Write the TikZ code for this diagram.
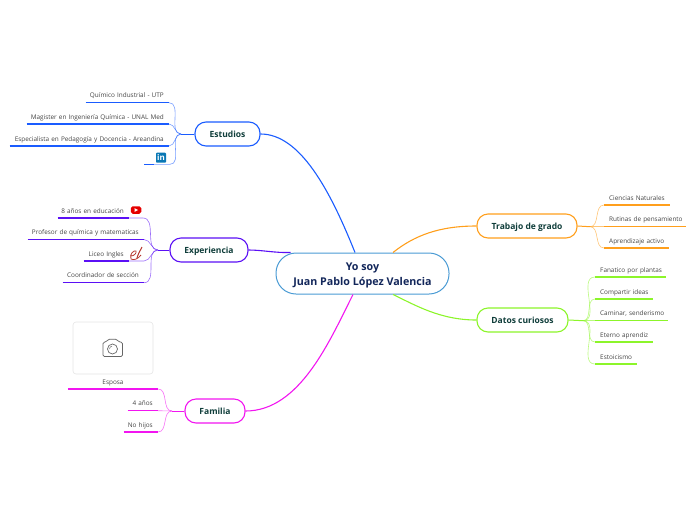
\documentclass[tikz,border=0pt]{standalone}
\usepackage{fontspec}
\setmainfont{Open Sans}
\definecolor{estudioscol}{HTML}{1A5CFF}
\definecolor{expercol}{HTML}{5B10F5}
\definecolor{familiacol}{HTML}{F215F0}
\definecolor{trabajocol}{HTML}{FF9F1C}
\definecolor{datoscol}{HTML}{8CF52A}
\definecolor{rootcol}{HTML}{4A9BD4}
\definecolor{titlecol}{HTML}{12265A}
\definecolor{topiccol}{HTML}{0F3D3A}
\definecolor{leafcol}{HTML}{444444}
\definecolor{linkedincol}{HTML}{0A78B5}
\definecolor{liceocol}{HTML}{B5352C}
\newcommand{\ltxt}[1]{\hbox to\linewidth{\hss #1}}
\newcommand{\rtxt}[1]{\hbox to\linewidth{#1\hss}}
\tikzset{
  rootnode/.style={draw=rootcol,line width=1pt,fill=white,rounded corners=20pt,minimum width=173pt,minimum height=41pt,
    inner sep=0pt,align=center,text=titlecol,font=\fontsize{10.7}{15}\selectfont\bfseries},
  topic/.style={line width=1.1pt,fill=white,rounded corners=11pt,minimum height=24pt,inner sep=0pt,text height=7pt,text depth=0.5pt,
    text=topiccol,font=\fontsize{8.5}{9}\selectfont\bfseries},
  leaf/.style={inner xsep=5pt,inner ysep=0pt,text height=5pt,text depth=4.7pt,text=leafcol,font=\fontsize{6.4}{7}\selectfont},
  leafl/.style={leaf,anchor=south east},
  leafr/.style={leaf,anchor=south west},
  under/.style={line width=1.3pt},
  stem/.style={line width=1pt},
  branch/.style={line width=0.6pt,opacity=0.6},
  mainline/.style={line width=1.1pt},
  photobox/.style={draw=black!10,line width=0.6pt,fill=white,rounded corners=3pt,minimum width=80pt,minimum height=52pt,inner sep=0pt}
}
\begin{document}
\begin{tikzpicture}[x=1pt,y=-1pt]
\useasboundingbox (0,0) rectangle (696,520);

\node[rootnode] (root) at (362.5,273.5) {\rule{0pt}{11pt}Yo soy\\Juan Pablo López Valencia};

\node[topic,draw=estudioscol,minimum width=65pt] (estudios) at (227.5,134) {Estudios};
\node[topic,draw=expercol,minimum width=78pt] (exper) at (209,250) {Experiencia};
\node[topic,draw=familiacol,minimum width=60pt] (familia) at (215,411) {Familia};
\node[topic,draw=trabajocol,minimum width=100pt] (trabajo) at (527,226) {Trabajo de grado};
\node[topic,draw=datoscol,minimum width=91pt] (datos) at (522.5,320) {Datos curiosos};

\draw[mainline,estudioscol] (estudios.east) .. controls (300,134) and (330,190) .. ([xshift=-7.5pt]root.north);
\draw[mainline,expercol] (exper.east) .. controls (262,250) and (275,253) .. ([xshift=-72pt]root.north);
\draw[mainline,familiacol] (familia.east) .. controls (300,411) and (330,340) .. ([xshift=-9.5pt]root.south);
\draw[mainline,trabajocol] (trabajo.west) .. controls (440,226) and (415,235) .. ([xshift=30.5pt]root.north);
\draw[mainline,datoscol] (datos.west) .. controls (440,320) and (415,305) .. ([xshift=30.5pt]root.south);

\coordinate (jestudios) at (181,134);
\node[leafl,text width=73pt] (quimico) at (169,102.7) {\ltxt{Químico Industrial - UTP}};
\node[leafl,text width=132pt] (magister) at (169,124) {\ltxt{Magister en Ingeniería Química - UNAL Med}};
\node[leafl,text width=149pt] (pedagogia) at (169,146) {\ltxt{Especialista en Pedagogía y Docencia - Areandina}};
\coordinate (linkedinl) at (144,164.3);
\coordinate (linkedinm) at (154,164.3);
\coordinate (linkedinr) at (170,164.3);
\node[fill=linkedincol,rounded corners=0.8pt,minimum size=10pt,inner sep=0pt,text=white,font=\fontsize{8}{8}\selectfont\bfseries] (linkedin) at (161,157.7) {in};
\draw[stem,estudioscol] (estudios.west) -- (jestudios);
\draw[under,estudioscol] (quimico.south west) -- (quimico.south east);
\draw[under,estudioscol] (magister.south west) -- (magister.south east);
\draw[under,estudioscol] (pedagogia.south west) -- (pedagogia.south east);
\draw[under,estudioscol] (linkedinl) -- (linkedinm);
\draw[branch,estudioscol] (jestudios) to[out=180,in=0] (quimico.south east);
\draw[branch,estudioscol] (jestudios) to[out=180,in=0] (magister.south east);
\draw[branch,estudioscol] (jestudios) to[out=180,in=0] (pedagogia.south east);
\draw[branch,estudioscol] (jestudios) to[out=180,in=0] (linkedinr) -- (linkedinm);

\coordinate (jexper) at (158,250);
\node[leafl,text width=61pt] (educacion) at (129,218) {\ltxt{8 años en educación}};
\node[leafl,text width=106pt] (profesor) at (144,239.5) {\ltxt{Profesor de química y matematicas}};
\node[leafl,text width=35pt] (liceo) at (129,261) {\ltxt{Liceo Ingles}};
\node[leafl,text width=71pt] (coordinador) at (144,282.7) {\ltxt{Coordinador de sección}};
\coordinate (educacionr) at (143,218);
\coordinate (liceor) at (144,261);
\node[fill=red!90!black,rounded corners=1.8pt,minimum width=10.5pt,minimum height=7.5pt,inner sep=0pt] (youtube) at (136,210) {};
\fill[white] (134.7,208.2) -- (138,210) -- (134.7,211.8) -- cycle;
\draw[line width=0.8pt,liceocol] (131,259) .. controls (129,254) and (134,250) .. (136,251) .. controls (137,253) and (134,256) .. (131,256);
\draw[line width=1pt,liceocol] (137,258) .. controls (138,254) and (140,251) .. (142,247);
\draw[line width=0.8pt,liceocol] (131,259) .. controls (134,260.5) and (138,259) .. (141,255);
\draw[stem,expercol] (exper.west) -- (jexper);
\draw[under,expercol] (educacion.south west) -- (educacion.south east);
\draw[under,expercol] (profesor.south west) -- (profesor.south east);
\draw[under,expercol] (liceo.south west) -- (liceo.south east);
\draw[under,expercol] (coordinador.south west) -- (coordinador.south east);
\draw[branch,expercol] (jexper) to[out=180,in=0] (educacionr) -- (educacion.south east);
\draw[branch,expercol] (jexper) to[out=180,in=0] (profesor.south east);
\draw[branch,expercol] (jexper) to[out=180,in=0] (liceor) -- (liceo.south east);
\draw[branch,expercol] (jexper) to[out=180,in=0] (coordinador.south east);

\coordinate (jfamilia) at (172,411);
\node[photobox] (photo) at (113,348) {};
\draw[line width=0.7pt,black!60,rounded corners=1.5pt] (103,342) -- (106.5,342) -- (108,339.2) -- (117,339.2) -- (118.5,342) -- (122.5,342) -- (122.5,356.5) -- (103,356.5) -- cycle;
\draw[line width=0.7pt,black!60] (112.5,349) circle[radius=5];
\draw[line width=0.5pt,black!60] (109.5,349) .. controls (109.5,347.5) and (110.5,346.5) .. (112,346);
\node[leaf,anchor=south,minimum width=90pt,align=center] (esposa) at (113,389) {Esposa};
\node[leafl,text width=20pt] (anos) at (158,410.7) {\ltxt{4 años}};
\node[leafl,text width=24pt] (hijos) at (158,432) {\ltxt{No hijos}};
\draw[stem,familiacol] (familia.west) -- (jfamilia);
\draw[under,familiacol] (esposa.south west) -- (esposa.south east);
\draw[under,familiacol] (anos.south west) -- (anos.south east);
\draw[under,familiacol] (hijos.south west) -- (hijos.south east);
\draw[branch,familiacol] (jfamilia) to[out=180,in=0] (esposa.south east);
\draw[branch,familiacol] (jfamilia) -- (anos.south east);
\draw[branch,familiacol] (jfamilia) to[out=180,in=0] (hijos.south east);

\coordinate (jtrabajo) at (590,226.7);
\node[leafr,text width=56pt] (ciencias) at (604,205) {\rtxt{Ciencias Naturales}};
\node[leafr,text width=72pt] (rutinas) at (604,226.7) {\rtxt{Rutinas de pensamiento}};
\node[leafr,text width=55pt] (aprendizaje) at (604,248) {\rtxt{Aprendizaje activo}};
\draw[stem,trabajocol] (trabajo.east) -- (jtrabajo);
\draw[under,trabajocol] (ciencias.south west) -- (ciencias.south east);
\draw[under,trabajocol] (rutinas.south west) -- (rutinas.south east);
\draw[under,trabajocol] (aprendizaje.south west) -- (aprendizaje.south east);
\draw[branch,trabajocol] (jtrabajo) to[out=0,in=180] (ciencias.south west);
\draw[branch,trabajocol] (jtrabajo) -- (rutinas.south west);
\draw[branch,trabajocol] (jtrabajo) to[out=0,in=180] (aprendizaje.south west);

\coordinate (jdatos) at (583,320.7);
\node[leafr,text width=61pt] (fanatico) at (595,277) {\rtxt{Fanatico por plantas}};
\node[leafr,text width=48pt] (compartir) at (595,299) {\rtxt{Compartir ideas}};
\node[leafr,text width=63pt] (caminar) at (595,320.7) {\rtxt{Caminar, senderismo}};
\node[leafr,text width=48pt] (eterno) at (595,342) {\rtxt{Eterno aprendiz}};
\node[leafr,text width=32pt] (estoicismo) at (595,364) {\rtxt{Estoicismo}};
\draw[stem,datoscol] (datos.east) -- (jdatos);
\draw[under,datoscol] (fanatico.south west) -- (fanatico.south east);
\draw[under,datoscol] (compartir.south west) -- (compartir.south east);
\draw[under,datoscol] (caminar.south west) -- (caminar.south east);
\draw[under,datoscol] (eterno.south west) -- (eterno.south east);
\draw[under,datoscol] (estoicismo.south west) -- (estoicismo.south east);
\draw[branch,datoscol] (jdatos) to[out=0,in=180] (fanatico.south west);
\draw[branch,datoscol] (jdatos) to[out=0,in=180] (compartir.south west);
\draw[branch,datoscol] (jdatos) -- (caminar.south west);
\draw[branch,datoscol] (jdatos) to[out=0,in=180] (eterno.south west);
\draw[branch,datoscol] (jdatos) to[out=0,in=180] (estoicismo.south west);
\end{tikzpicture}
\end{document}
